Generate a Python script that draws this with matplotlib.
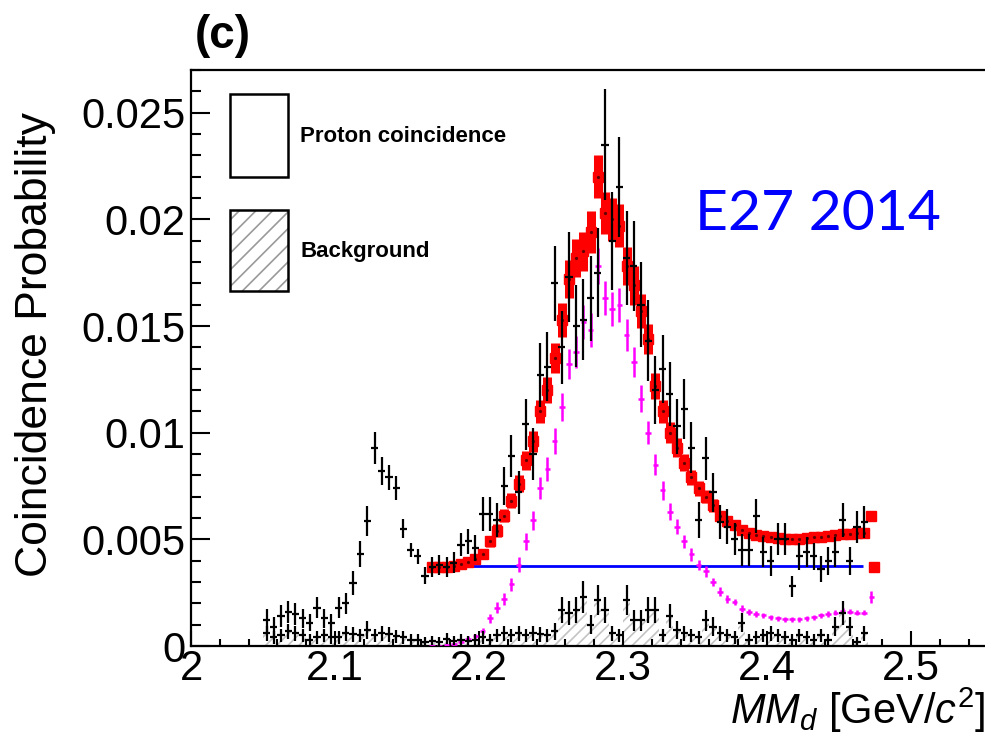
import numpy as np
import matplotlib
matplotlib.use('Agg')
import matplotlib.pyplot as plt
from matplotlib.patches import Rectangle
from matplotlib.ticker import MultipleLocator, FuncFormatter

plt.rcParams['font.family'] = ['Liberation Sans', 'DejaVu Sans']
plt.rcParams['mathtext.fontset'] = 'custom'
plt.rcParams['mathtext.rm'] = 'Liberation Sans'
plt.rcParams['mathtext.it'] = 'Liberation Sans:italic'
plt.rcParams['hatch.linewidth'] = 1.2

# ---------------- data (values in units of 1e-3) ----------------
BIN = 0.005
x_data = np.round(2.0525 + BIN * np.arange(84), 4)   # bin centres 2.0525 ... 2.4675

proton = [1.2, 0.9, 1.4, 1.6, 1.5, 1.3, 1.1, 1.8, 1.3, 1.1, 1.8, 2.0,
          2.95, 4.3, 5.85, 9.3, 8.2, 7.9, 7.4, 5.5, 4.5, 4.2, 3.3,
          3.7, 3.8, 3.7, 3.9, 4.75, 4.9, 4.6,
          6.2, 6.2, 5.9, 7.5, 8.9, 7.2, 10.4, 9.0,
          12.7, 13.1, 17.0, 14.0, 17.3, 15.0, 15.3, 16.3, 17.5,
          23.5, 19.0, 21.5, 18.2, 17.8, 16.0, 14.3, 12.0, 13.0, 11.8,
          10.3, 11.1, 9.3, 5.9, 8.8, 7.2, 5.8, 5.6, 5.0, 4.5, 4.5,
          6.1, 4.4, 4.0, 5.0, 5.0, 2.8, 4.2, 4.4, 4.2, 3.6, 4.0, 4.4, 5.9, 4.0, 5.6, 5.8]
proton_err = [0.55, 0.45, 0.5, 0.5, 0.5, 0.45, 0.4, 0.5, 0.45, 0.4, 0.5, 0.5,
              0.55, 0.6, 0.7, 0.75, 0.65, 0.6, 0.55, 0.45, 0.35, 0.35, 0.4,
              0.45, 0.45, 0.45, 0.5, 0.55, 0.6, 0.6,
              0.8, 0.8, 0.8, 0.9, 1.0, 1.0, 1.2, 1.2,
              1.5, 1.6, 1.75, 1.7, 2.1, 1.9, 1.9, 2.0, 2.1,
              2.6, 2.3, 2.35, 2.2, 2.1, 2.0, 1.9, 1.6, 1.6, 1.5,
              1.3, 1.4, 1.2, 0.85, 1.0, 0.9, 0.8, 0.8, 0.75, 0.75, 0.75,
              0.8, 0.7, 0.7, 0.75, 0.75, 0.5, 0.65, 0.7, 0.65, 0.6, 0.65, 0.7, 0.8, 0.65, 0.75, 0.75]

background = [0.6, 0.4, 0.5, 0.7, 0.6, 0.5, 0.3, 0.4, 0.5, 0.4,
              0.4, 0.6, 0.55, 0.5, 0.75, 0.5, 0.6, 0.55, 0.45, 0.4,
              0.3, 0.3, 0.2, 0.25, 0.2, 0.35, 0.25, 0.3, 0.25, 0.3,
              0.4, 0.3, 0.5, 0.6, 0.5, 0.6, 0.5, 0.6, 0.55, 0.5,
              0.7, 1.7, 1.55, 1.7, 2.3, 1.0, 2.15, 1.7, 0.6, 0.5,
              2.15, 1.2, 1.2, 1.7, 1.7, 0.5, 1.4, 0.75, 0.6, 0.5,
              0.4, 1.2, 0.9, 0.6, 0.5, 0.4, 1.1, 0.3, 0.4, 0.5,
              0.6, 0.5, 0.4, 0.3, 0.5, 0.4, 0.3, 0.5, 0.3, 0.9,
              1.55, 0.9, 0.2, 0.6]
background_err = [0.35, 0.3, 0.3, 0.35, 0.35, 0.3, 0.25, 0.3, 0.3, 0.3,
                  0.3, 0.35, 0.35, 0.3, 0.4, 0.3, 0.35, 0.35, 0.3, 0.3,
                  0.25, 0.25, 0.2, 0.2, 0.2, 0.25, 0.2, 0.25, 0.2, 0.25,
                  0.3, 0.25, 0.3, 0.35, 0.3, 0.35, 0.3, 0.35, 0.35, 0.3,
                  0.4, 0.6, 0.55, 0.6, 0.75, 0.45, 0.7, 0.6, 0.35, 0.3,
                  0.7, 0.5, 0.5, 0.6, 0.6, 0.3, 0.55, 0.4, 0.35, 0.3,
                  0.3, 0.5, 0.45, 0.35, 0.3, 0.3, 0.45, 0.25, 0.3, 0.3,
                  0.35, 0.3, 0.3, 0.25, 0.3, 0.3, 0.25, 0.3, 0.25, 0.45,
                  0.55, 0.45, 0.2, 0.35]

x_fit = np.round(2.1675 + BIN * np.arange(61), 4)     # 2.1675 ... 2.4675
fit_total = [3.7, 3.7, 3.7, 3.75, 3.85, 3.95, 4.1, 4.3, 4.9, 5.4,
             6.1, 6.8, 7.6, 8.7, 9.6, 11.0, 12.0, 13.5, 15.3, 17.2,
             18.2, 18.5, 19.4, 22.0, 20.3, 20.0, 19.7, 17.8, 16.9, 15.7,
             14.4, 12.2, 11.0, 10.0, 9.3, 8.6, 7.9, 7.4, 7.0, 6.6,
             6.1, 5.85, 5.65, 5.45, 5.3, 5.2, 5.15, 5.1, 5.05, 5.0,
             5.0, 5.0, 5.05, 5.1, 5.1, 5.15, 5.2, 5.25, 5.25, 5.3, 5.3]
fit_total_err = [0.15, 0.15, 0.15, 0.15, 0.15, 0.15, 0.2, 0.2, 0.25, 0.3,
                 0.3, 0.35, 0.4, 0.45, 0.5, 0.55, 0.6, 0.7, 0.8, 0.9,
                 0.9, 0.9, 1.0, 1.0, 1.0, 1.0, 1.0, 0.9, 0.9, 0.8,
                 0.7, 0.6, 0.55, 0.5, 0.45, 0.4, 0.35, 0.35, 0.3, 0.3,
                 0.25, 0.25, 0.2, 0.2, 0.2, 0.2, 0.2, 0.2, 0.2, 0.2,
                 0.2, 0.2, 0.2, 0.2, 0.2, 0.2, 0.2, 0.2, 0.2, 0.2, 0.2]
fit_end_x = [2.4725, 2.4745]
fit_end = [6.1, 3.7]

signal = [0.0, 0.0, 0.05, 0.1, 0.2, 0.35, 0.45, 0.7, 1.3, 1.8,
          2.2, 2.9, 3.8, 4.9, 5.9, 7.4, 8.3, 9.6, 11.2, 13.2,
          13.8, 15.2, 14.8, 17.8, 16.3, 15.8, 16.0, 14.6, 13.3, 11.6,
          10.0, 8.5, 7.3, 6.3, 5.6, 4.9, 4.3, 3.8, 3.5, 3.0,
          2.55, 2.2, 2.05, 1.75, 1.6, 1.5, 1.45, 1.35, 1.3, 1.25,
          1.25, 1.25, 1.3, 1.35, 1.45, 1.5, 1.55, 1.65, 1.6, 1.55, 1.55]
signal_err = [0.05, 0.05, 0.05, 0.05, 0.08, 0.1, 0.12, 0.15, 0.2, 0.25,
              0.3, 0.3, 0.35, 0.4, 0.45, 0.5, 0.55, 0.6, 0.65, 0.7,
              0.75, 0.8, 0.8, 0.85, 0.8, 0.8, 0.8, 0.75, 0.7, 0.65,
              0.55, 0.5, 0.45, 0.4, 0.35, 0.3, 0.3, 0.25, 0.25, 0.2,
              0.2, 0.2, 0.15, 0.15, 0.15, 0.12, 0.12, 0.12, 0.12, 0.12,
              0.12, 0.12, 0.12, 0.12, 0.12, 0.12, 0.12, 0.12, 0.12, 0.12, 0.12]
signal_end_x = [2.4725]
signal_end = [2.3]

flat_level = 3.73
flat_range = [2.165, 2.467]

S = 1e-3
proton = np.array(proton) * S
proton_err = np.array(proton_err) * S
background = np.array(background) * S
background_err = np.array(background_err) * S
fit_total = np.array(fit_total) * S
fit_total_err = np.array(fit_total_err) * S
signal = np.array(signal) * S
signal_err = np.array(signal_err) * S

# ---------------- figure ----------------
W, H = 985, 744
fig = plt.figure(figsize=(W / 100, H / 100), dpi=100)
L, R, T, B = 191, 985, 70, 646
ax = fig.add_axes([L / W, 1 - B / H, (R - L) / W, (B - T) / H])

# hatched background histogram
ax.bar(x_data, background, width=BIN, fill=False, hatch='///',
       edgecolor='#c4c4c4', linewidth=0, zorder=1)

# flat component
ax.hlines(flat_level * S, flat_range[0], flat_range[1], color='#0000ff', lw=2.0, zorder=3)

# total fit (red)
ax.errorbar(x_fit, fit_total, yerr=fit_total_err, fmt='s', color='red', ms=6.5,
            elinewidth=6.5, capsize=0, zorder=3)
ax.plot(fit_end_x, np.array(fit_end) * S, 's', color='red', ms=6.5, zorder=3)
ax.plot(x_fit, fit_total, 'o', color='#600000', ms=1.3, zorder=3.2)

# signal (magenta)
ax.errorbar(x_fit, signal, xerr=0.002, yerr=signal_err, fmt='none', ecolor='#ff00ff',
            elinewidth=1.8, capsize=0, zorder=3.5)
ax.errorbar(signal_end_x, np.array(signal_end) * S, xerr=0.002, yerr=0.3 * S, fmt='none',
            ecolor='#ff00ff', elinewidth=1.8, capsize=0, zorder=3.5)

# background points and proton coincidence points
ax.errorbar(x_data, background, xerr=BIN / 2, yerr=background_err, fmt='none',
            ecolor='black', elinewidth=1.6, capsize=0, zorder=4)
ax.errorbar(x_data, proton, xerr=BIN / 2, yerr=proton_err, fmt='none',
            ecolor='black', elinewidth=1.6, capsize=0, zorder=4)

# axes styling
ax.set_xlim(2.0, 2.0 + (R - L) / 1440)
ax.set_ylim(0, 0.0270)
ax.xaxis.set_major_locator(MultipleLocator(0.1))
ax.xaxis.set_minor_locator(MultipleLocator(0.02))
ax.yaxis.set_major_locator(MultipleLocator(0.005))
ax.yaxis.set_minor_locator(MultipleLocator(0.001))
fmt = FuncFormatter(lambda v, p: ('%g' % round(v, 4)))
ax.xaxis.set_major_formatter(fmt)
ax.yaxis.set_major_formatter(fmt)
ax.tick_params(axis='both', which='both', direction='in', top=False, right=False,
               labelsize=30, width=1.5)
ax.tick_params(axis='y', which='major', length=14, pad=4)
ax.tick_params(axis='y', which='minor', length=7)
ax.tick_params(axis='x', which='major', length=11, pad=2)
ax.tick_params(axis='x', which='minor', length=5)
for s in ['left', 'bottom', 'top']:
    ax.spines[s].set_linewidth(1.6)
ax.spines['right'].set_visible(False)

ax.set_ylabel('Coincidence Probability', fontsize=32)
ax.yaxis.set_label_coords(-0.170, 0.523)
ax.set_xlabel(r'$MM_d$ [GeV/$c^2$]', fontsize=30, loc='right', labelpad=-2)

# legend (drawn as in the original ROOT style)
def box(px0, py0, px1, py1, hatch=None):
    x0 = (px0 - L) / (R - L)
    y0 = (B - py1) / (B - T)
    w = (px1 - px0) / (R - L)
    h = (py1 - py0) / (B - T)
    if hatch:
        ax.add_patch(Rectangle((x0, y0), w, h, transform=ax.transAxes, fill=False,
                               hatch=hatch, edgecolor='#9a9a9a', lw=0, zorder=5))
    ax.add_patch(Rectangle((x0, y0), w, h, transform=ax.transAxes, facecolor='none',
                           edgecolor='black', lw=1.8, zorder=5))

box(230, 94, 288, 177)
box(230, 210, 288, 291, hatch='//')
ax.text((300 - L) / (R - L), (B - 136) / (B - T), 'Proton coincidence', transform=ax.transAxes,
        fontsize=16, fontweight='bold', ha='left', va='center', zorder=6)
ax.text((300 - L) / (R - L), (B - 251) / (B - T), 'Background', transform=ax.transAxes,
        fontsize=16, fontweight='bold', ha='left', va='center', zorder=6)

ax.text((695 - L) / (R - L), (B - 215) / (B - T), 'E27 2014', transform=ax.transAxes,
        fontsize=41, color='#0000ff', family=['Lato', 'DejaVu Sans'],
        ha='left', va='center', zorder=6)

fig.text(195 / W, 1 - 36 / H, '(c)', fontsize=33, fontweight='bold', ha='left', va='center')

fig.savefig('out.png', dpi=100)
